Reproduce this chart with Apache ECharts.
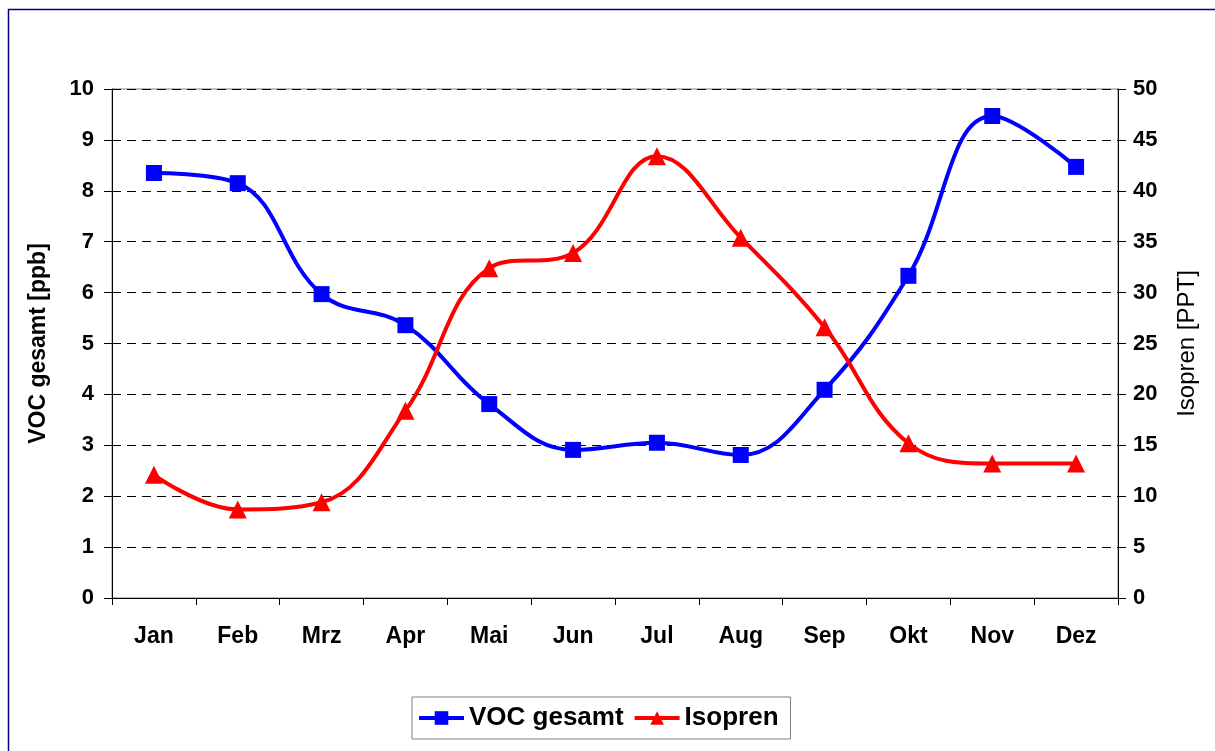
<!DOCTYPE html>
<html><head><meta charset="utf-8">
<script src="https://cdn.jsdelivr.net/npm/echarts@6/dist/echarts.min.js"></script>
<style>html,body{margin:0;padding:0;background:#fff}#c{width:1215px;height:751px}</style>
</head><body><div id="c"></div>
<script>
const months = ['Jan','Feb','Mrz','Apr','Mai','Jun','Jul','Aug','Sep','Okt','Nov','Dez'];
const vocGesamt = [8.35, 8.15, 5.97, 5.36, 3.81, 2.91, 3.05, 2.81, 4.09, 6.33, 9.47, 8.47];
const isopren = [12.1, 8.7, 9.4, 18.4, 32.4, 33.9, 43.4, 35.4, 26.6, 15.2, 13.2, 13.2];
const leftTicks = {min: 0, max: 10, interval: 1};
const rightTicks = {min: 0, max: 50, interval: 5};

const font = 'Liberation Sans, Arial, sans-serif';
const chart = echarts.init(document.getElementById('c'), null, {renderer: 'canvas'});
chart.setOption({
  animation: false,
  backgroundColor: '#fff',
  graphic: [{
    type: 'rect', shape: {x: 8.5, y: 9.5, width: 1220, height: 760},
    style: {fill: 'none', stroke: '#000080', lineWidth: 1.5}, silent: true, z: -1
  }],
  grid: {left: 112, right: 97, top: 89, bottom: 153, show: true, borderColor: '#808080', borderWidth: 1, backgroundColor: 'transparent'},
  legend: {
    left: 412, top: 697,
    padding: [8, 12, 8, 5],
    borderColor: '#808080', borderWidth: 1,
    itemWidth: 45, itemHeight: 17, itemGap: 9,
    lineStyle: {width: 4},
    textStyle: {fontFamily: font, fontWeight: 'bold', fontSize: 26, color: '#000'},
    data: ['VOC gesamt', 'Isopren']
  },
  xAxis: {
    type: 'category', data: months, boundaryGap: true,
    axisLine: {lineStyle: {color: '#000', width: 1}},
    axisTick: {show: true, length: 7, lineStyle: {color: '#000'}},
    axisLabel: {margin: 27, fontFamily: font, fontWeight: 'bold', fontSize: 23, color: '#000'}
  },
  yAxis: [{
    type: 'value', min: leftTicks.min, max: leftTicks.max, interval: leftTicks.interval,
    name: 'VOC gesamt [ppb]', nameLocation: 'middle', nameGap: 62, nameRotate: 90,
    nameTextStyle: {fontFamily: font, fontWeight: 'bold', fontSize: 23, color: '#000'},
    axisLine: {show: true, lineStyle: {color: '#000'}},
    axisTick: {show: true, length: 8, lineStyle: {color: '#000'}},
    axisLabel: {margin: 18, fontFamily: font, fontWeight: 'bold', fontSize: 22, color: '#000'},
    splitLine: {show: true, lineStyle: {color: '#000', type: [9, 6], width: 1}}
  }, {
    type: 'value', min: rightTicks.min, max: rightTicks.max, interval: rightTicks.interval,
    name: 'Isopren [PPT]', nameLocation: 'middle', nameGap: 57, nameRotate: 90,
    nameTextStyle: {fontFamily: font, fontSize: 24, color: '#000'},
    axisLine: {show: true, lineStyle: {color: '#000'}},
    axisTick: {show: true, length: 8, lineStyle: {color: '#000'}},
    axisLabel: {margin: 15, fontFamily: font, fontWeight: 'bold', fontSize: 22, color: '#000'},
    splitLine: {show: false}
  }],
  series: [{
    name: 'VOC gesamt', type: 'line', yAxisIndex: 0, data: vocGesamt,
    smooth: 0.4, symbol: 'rect', symbolSize: 16,
    lineStyle: {color: '#0000ff', width: 4},
    itemStyle: {color: '#0000ff'}
  }, {
    name: 'Isopren', type: 'line', yAxisIndex: 1, data: isopren,
    smooth: 0.4, symbol: 'triangle', symbolSize: 18,
    lineStyle: {color: '#ff0000', width: 4},
    itemStyle: {color: '#ff0000'}
  }]
});
</script></body></html>
